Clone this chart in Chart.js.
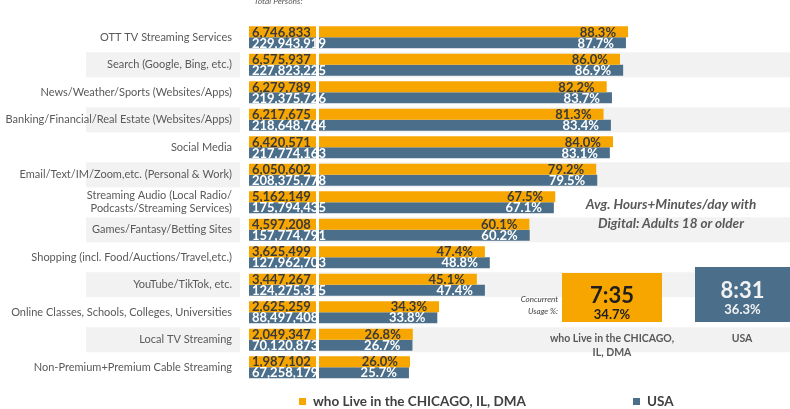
<!DOCTYPE html>
<html>
<head>
<meta charset="utf-8">
<script src="https://cdn.jsdelivr.net/npm/chart.js@4.4.1/dist/chart.umd.min.js"></script>
<style>
  html, body { margin: 0; padding: 0; background: #fff; }
  #wrap { position: relative; width: 790px; height: 409px; overflow: hidden; font-family: Lato, "Open Sans", sans-serif; }
  #chart { position: absolute; left: 0; top: 0; }
  .abs { position: absolute; white-space: nowrap; }
  #avgTitle { left: 571px; top: 195px; width: 200px; text-align: center; font-style: italic; font-weight: bold; font-size: 13.5px; line-height: 19px; color: #595959; }
  #concurrent { left: 480px; top: 293px; width: 78px; text-align: right; font-style: italic; font-size: 8px; line-height: 12px; color: #404040; }
  .box { text-align: center; }
  .box .time { font-weight: bold; font-size: 22px; line-height: 22px; }
  .box .pct { font-weight: bold; font-size: 13px; line-height: 16px; }
  .sub { text-align: center; font-weight: bold; font-size: 10.5px; line-height: 14px; color: #595959; }
  .leg { font-weight: bold; font-size: 13.5px; color: #404040; line-height: 16px; }
  .leg i { display: inline-block; width: 7px; height: 7px; margin-right: 7px; vertical-align: 1px; }
</style>
</head>
<body>
<div id="wrap">
  <canvas id="chart" width="790" height="409"></canvas>
</div>
<script>
const categories = [
    'OTT TV Streaming Services',
    'Search (Google, Bing, etc.)',
    'News/Weather/Sports (Websites/Apps)',
    'Banking/Financial/Real Estate (Websites/Apps)',
    'Social Media',
    'Email/Text/IM/Zoom,etc. (Personal & Work)',
    ['Streaming Audio (Local Radio/', 'Podcasts/Streaming Services)'],
    'Games/Fantasy/Betting Sites',
    'Shopping (incl. Food/Auctions/Travel,etc.)',
    'YouTube/TikTok, etc.',
    'Online Classes, Schools, Colleges, Universities',
    'Local TV Streaming',
    'Non-Premium+Premium Cable Streaming'
];
const seriesNames = ['who Live in the CHICAGO, IL, DMA', 'USA'];
const chicagoPersons = [6746833, 6575937, 6279789, 6217675, 6420571, 6050602, 5162149, 4597208, 3625499, 3447267, 2625259, 2049347, 1987102];
const usaPersons = [229943919, 227823225, 219375726, 218648764, 217774163, 208375778, 175794435, 157774791, 127962703, 124275315, 88497408, 70120873, 67258179];
const chicagoPct = [88.3, 86.0, 82.2, 81.3, 84.0, 79.2, 67.5, 60.1, 47.4, 45.1, 34.3, 26.8, 26.0];
const usaPct = [87.7, 86.9, 83.7, 83.4, 83.1, 79.5, 67.1, 60.2, 48.8, 47.4, 33.8, 26.7, 25.7];
const avgTime = ['7:35', '8:31'];
const concurrentPct = [34.7, 36.3];

const ORANGE = '#F7A600';
const BLUE = '#4B6F8B';
const COUNT_SPAN = [-20, -0.85]; // the "Total Persons" column, left of the 0% line
const FONT = 'Lato, "Open Sans", sans-serif';

// light grey band behind every other row
const bandPlugin = {
    id: 'bands',
    beforeDraw(chart) {
        const ctx = chart.ctx;
        const y = chart.scales.y;
        const x0 = chart.scales.x.getPixelForValue(0);
        ctx.save();
        ctx.fillStyle = '#F2F2F2';
        categories.forEach((c, i) => {
            if (i % 2 === 0) return;
            const yc = y.getPixelForValue(i);
            ctx.fillRect(86, yc - 12.5, 240 - 86, 25);
            ctx.fillRect(x0, yc - 12.5, chart.width - x0, 25);
        });
        ctx.restore();
    }
};

// value texts on the bars
const valuePlugin = {
    id: 'values',
    afterDatasetsDraw(chart) {
        const ctx = chart.ctx;
        const area = chart.chartArea;
        ctx.save();
        ctx.font = 'bold 13px ' + FONT;
        ctx.textBaseline = 'middle';
        chart.data.datasets.forEach((ds, di) => {
            const meta = chart.getDatasetMeta(di);
            meta.data.forEach((bar, i) => {
                ctx.fillStyle = ds.textColor;
                if (ds.isCount) {
                    ctx.textAlign = 'left';
                    ctx.fillText(ds.counts[i].toLocaleString('en-US'), Math.min(bar.x, bar.base) + 3, bar.y + 0.5);
                } else {
                    ctx.textAlign = 'right';
                    ctx.fillText(ds.data[i].toFixed(1) + '%', bar.x - 12, bar.y + 0.5);
                }
            });
        });
        // white gap between the persons column and the percent bars
        const xs = chart.scales.x;
        ctx.fillStyle = '#FFFFFF';
        const g0 = xs.getPixelForValue(COUNT_SPAN[1]);
        const g1 = xs.getPixelForValue(0);
        ctx.fillRect(g0, 0, g1 - g0, area.bottom + 4);
        // column caption
        ctx.font = 'italic 8.5px ' + FONT;
        ctx.fillStyle = '#595959';
        ctx.textAlign = 'left';
        ctx.textBaseline = 'alphabetic';
        ctx.fillText('Total Persons:', xs.getPixelForValue(COUNT_SPAN[0]) + 5, 4);
        ctx.restore();
    }
};

const ctx = document.getElementById('chart').getContext('2d');
new Chart(ctx, {
    type: 'bar',
    data: {
        labels: categories,
        datasets: [
            { label: seriesNames[0], stack: 'chi', isCount: true, counts: chicagoPersons, data: chicagoPersons.map(() => COUNT_SPAN), backgroundColor: ORANGE, textColor: '#3A3A3A' },
            { label: seriesNames[0], stack: 'chi', data: chicagoPct, backgroundColor: ORANGE, textColor: '#3A3A3A' },
            { label: seriesNames[1], stack: 'usa', isCount: true, counts: usaPersons, data: usaPersons.map(() => COUNT_SPAN), backgroundColor: BLUE, textColor: '#FFFFFF' },
            { label: seriesNames[1], stack: 'usa', data: usaPct, backgroundColor: BLUE, textColor: '#FFFFFF' }
        ]
    },
    options: {
        indexAxis: 'y',
        responsive: false,
        animation: false,
        categoryPercentage: 0.8,
        barPercentage: 1.0,
        layout: { padding: { top: 5, bottom: 28, left: 0, right: 121 } },
        plugins: {
            legend: { display: false },
            tooltip: { enabled: false }
        },
        scales: {
            x: {
                display: false,
                stacked: false,
                min: COUNT_SPAN[0],
                max: 100
            },
            y: {
                grid: { display: false, drawTicks: false },
                border: { display: false },
                afterFit: function (scale) {
                    scale.width = 249;
                },
                ticks: {
                    padding: 17,
                    color: '#595959',
                    font: { family: FONT, size: 11 },
                    autoSkip: false
                }
            }
        }
    },
    plugins: [bandPlugin, valuePlugin]
});

// side panel: average time per day, concurrent usage and bottom legend
const wrap = document.getElementById('wrap');
function addDiv(cls, id, html, style) {
    const d = document.createElement('div');
    d.className = 'abs ' + cls;
    if (id) d.id = id;
    d.innerHTML = html;
    Object.assign(d.style, style || {});
    wrap.appendChild(d);
    return d;
}
addDiv('', 'avgTitle', 'Avg. Hours+Minutes/day with<br>Digital: Adults 18 or older');
addDiv('', 'concurrent', 'Concurrent<br>Usage %:');

const boxes = [
    { left: 562, top: 273, width: 100, height: 49, bg: ORANGE, color: '#1E1E1E', timeTop: 11 },
    { left: 695, top: 267, width: 95, height: 55, bg: BLUE, color: '#F2F2F2', timeTop: 12 }
];
boxes.forEach((b, i) => {
    addDiv('box', null,
        '<div class="time" style="padding-top:' + b.timeTop + 'px">' + avgTime[i] + '</div>' +
        '<div class="pct">' + concurrentPct[i].toFixed(1) + '%</div>',
        { left: b.left + 'px', top: b.top + 'px', width: b.width + 'px', height: b.height + 'px', background: b.bg, color: b.color });
});
addDiv('sub', null, 'who Live in the CHICAGO,<br>IL, DMA', { left: '537px', top: '331px', width: '150px' });
addDiv('sub', null, seriesNames[1], { left: '692px', top: '331px', width: '100px' });

addDiv('leg', null, '<i style="background:' + ORANGE + '"></i>' + seriesNames[0], { left: '299px', top: '393px' });
addDiv('leg', null, '<i style="background:' + BLUE + '"></i>' + seriesNames[1], { left: '633px', top: '393px' });
</script>
</body>
</html>
